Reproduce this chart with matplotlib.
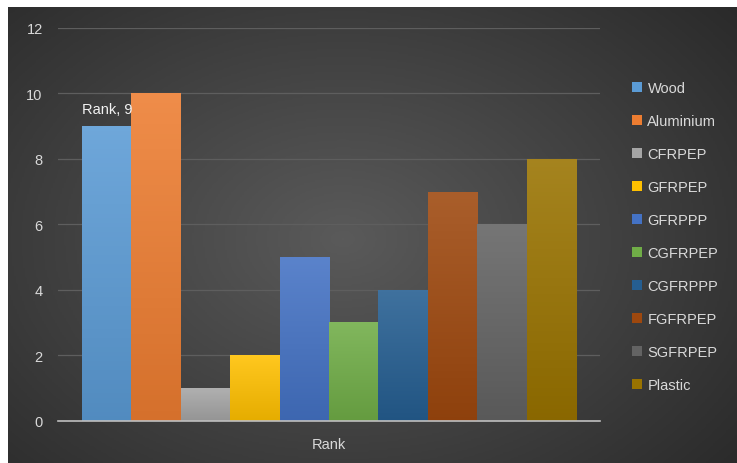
import numpy as np
import matplotlib
matplotlib.use('Agg')
import matplotlib.pyplot as plt
import matplotlib.colors as mcolors
from matplotlib.patches import Patch

materials = ['Wood', 'Aluminium', 'CFRPEP', 'GFRPEP', 'GFRPPP',
             'CGFRPEP', 'CGFRPPP', 'FGFRPEP', 'SGFRPEP', 'Plastic']
rank = [9, 10, 1, 2, 5, 3, 4, 7, 6, 8]
colors = ['#5B9BD5', '#ED7D31', '#A5A5A5', '#FFC000', '#4472C4',
          '#70AD47', '#255E91', '#9E480E', '#636363', '#997300']
yticks = [0, 2, 4, 6, 8, 10, 12]

plt.rcParams['font.family'] = ['Liberation Sans', 'DejaVu Sans']
text_col = '#d9d9d9'

fig = plt.figure(figsize=(7.37, 4.64), dpi=100, facecolor='white')

# dark radial background, runs off the right and bottom edges
bg = fig.add_axes([8 / 737, -0.02, 1.02 - 8 / 737, 0.02 + 456 / 464], zorder=0)
yy, xx = np.mgrid[0:1:300j, 0:1:400j]
r = np.sqrt(((xx - 0.45) / 0.75) ** 2 + ((yy - 0.5) / 0.85) ** 2)
bg.imshow(np.clip(r, 0, 1), cmap=mcolors.LinearSegmentedColormap.from_list(
    'bg', ['#5a5a5a', '#262626']), aspect='auto', extent=[0, 1, 0, 1],
    vmin=0, vmax=1)
bg.set_xlim(0, 1)
bg.set_ylim(0, 1)
bg.axis('off')

ax = fig.add_axes([58 / 737, 42.5 / 464, 542 / 737, 392.5 / 464], zorder=1)
ax.patch.set_alpha(0)

w = 0.0911
n = len(materials)
xs = [(i - (n - 1) / 2) * w for i in range(n)]
bars = ax.bar(xs, rank, width=w, color=colors, zorder=3, linewidth=0)

# vertical gradient on each bar: lighter top, darker bottom
for b, c in zip(bars, colors):
    base = np.array(mcolors.to_rgb(c))
    top = base + (1 - base) * 0.12
    bot = base * 0.9
    grad = np.linspace(0, 1, 64)[:, None, None]
    img = top * (1 - grad) + bot * grad
    x0 = b.get_x()
    im = ax.imshow(img, extent=[x0, x0 + b.get_width(), 0, b.get_height()],
                   aspect='auto', zorder=4)
    im.set_clip_path(b)

ax.set_xlim(-0.5, 0.5)
ax.set_ylim(0, 12)
ax.set_yticks(yticks)
ax.set_yticklabels([str(t) for t in yticks], color=text_col, fontsize=10.5)
ax.set_xticks([0])
ax.set_xticklabels(['Rank'], color=text_col, fontsize=10.5)
ax.tick_params(length=0)
ax.tick_params(axis='y', pad=11)
ax.tick_params(axis='x', pad=12)
ax.grid(axis='y', color='#5e5e5e', linewidth=0.9, zorder=1)
for s in ['top', 'right', 'left']:
    ax.spines[s].set_visible(False)
ax.spines['bottom'].set_color('#bfbfbf')
ax.spines['bottom'].set_linewidth(1.2)
ax.spines['bottom'].set_zorder(5)

ax.annotate('Rank, 9', xy=(xs[0], rank[0]), xytext=(0, 12),
            textcoords='offset points', ha='center', va='center',
            color='#f2f2f2', fontsize=10.5, zorder=6)

handles = [Patch(facecolor=c, edgecolor='none') for c in colors]
leg = fig.legend(handles, materials, loc='upper left',
                 bbox_to_anchor=(619 / 737, 1 - 69 / 464), frameon=False,
                 fontsize=10.5, labelcolor=text_col, handlelength=0.7,
                 handleheight=0.7, handletextpad=0.35, labelspacing=1.3)

fig.savefig('out.png', dpi=100, facecolor='white')
